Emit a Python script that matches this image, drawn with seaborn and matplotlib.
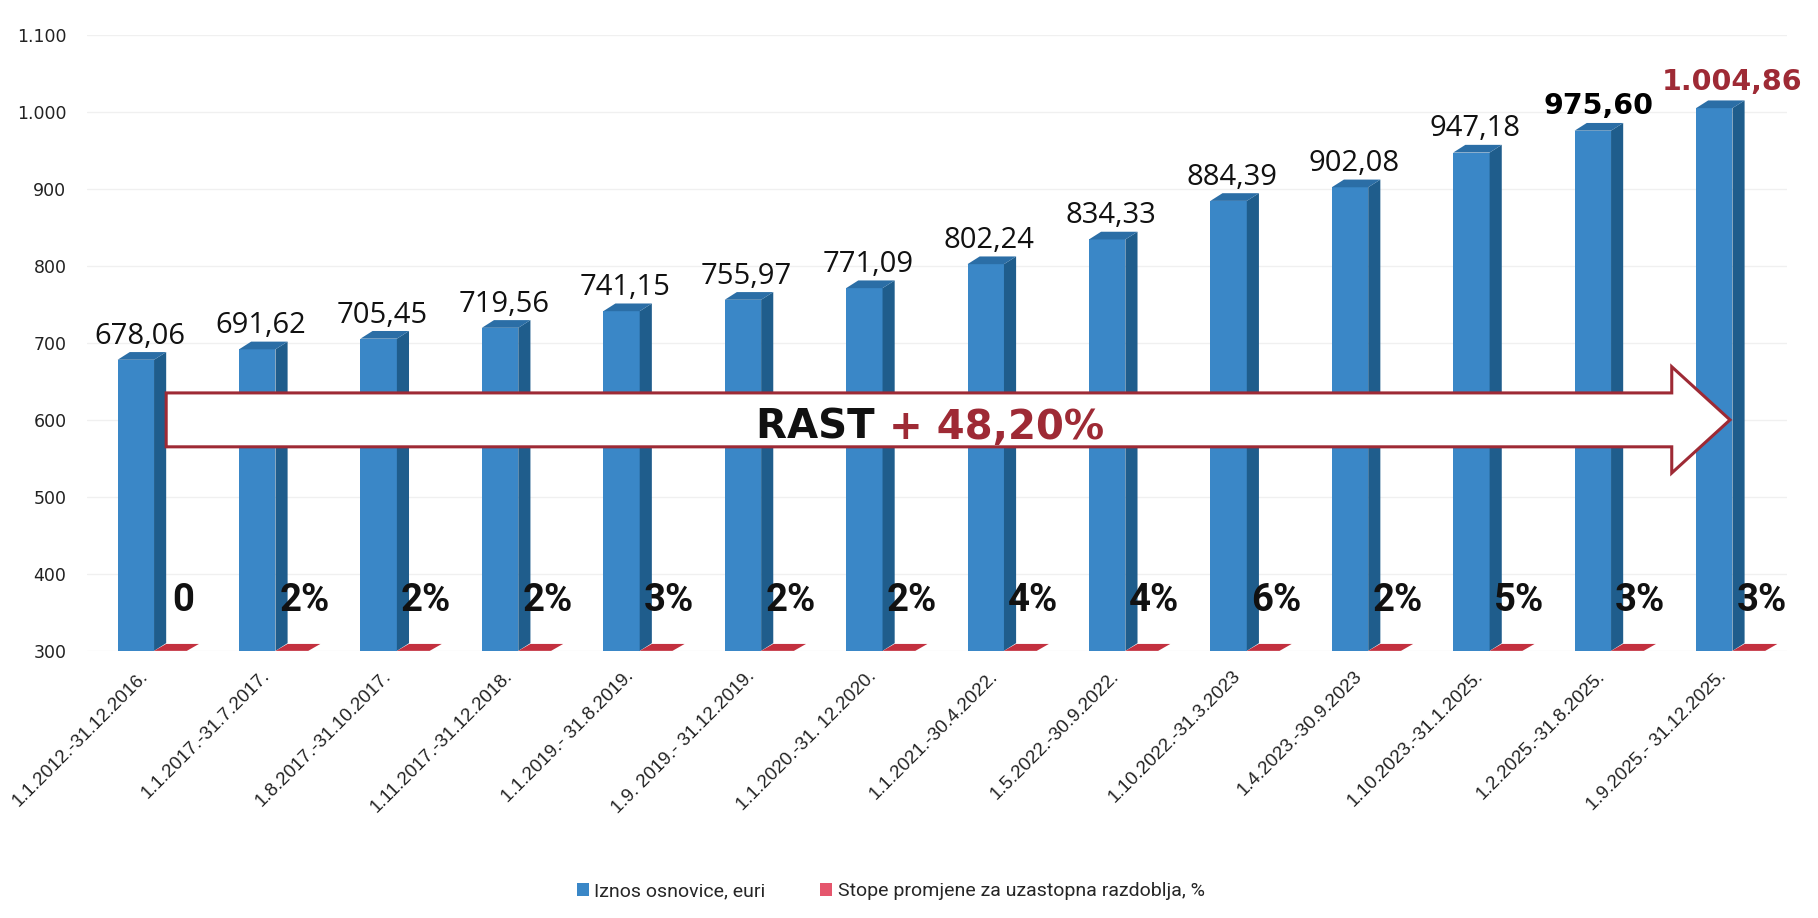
import numpy as np
import pandas as pd
import matplotlib
matplotlib.use('Agg')
import matplotlib.pyplot as plt
import seaborn as sns
from matplotlib.patches import Polygon, FancyArrow, Patch

# chart data
periods = ['1.1.2012.-31.12.2016.', '1.1.2017.-31.7.2017.', '1.8.2017.-31.10.2017.',
           '1.11.2017.-31.12.2018.', '1.1.2019.- 31.8.2019.', '1.9. 2019.- 31.12.2019.',
           '1.1.2020.-31. 12.2020.', '1.1.2021.-30.4.2022.', '1.5.2022.-30.9.2022.',
           '1.10.2022.-31.3.2023', '1.4.2023.-30.9.2023', '1.10.2023.-31.1.2025.',
           '1.2.2025.-31.8.2025.', '1.9.2025.- 31.12.2025.']
base_amount = [678.06, 691.62, 705.45, 719.56, 741.15, 755.97, 771.09, 802.24,
               834.33, 884.39, 902.08, 947.18, 975.60, 1004.86]
change_rate = [0, 2, 2, 2, 3, 2, 2, 4, 4, 6, 2, 5, 3, 3]
rate_labels = ['0', '2%', '2%', '2%', '3%', '2%', '2%', '4%', '4%', '6%', '2%', '5%', '3%', '3%']
amount_labels = ['678,06', '691,62', '705,45', '719,56', '741,15', '755,97', '771,09',
                 '802,24', '834,33', '884,39', '902,08', '947,18', '975,60', '1.004,86']
series_names = ['Iznos osnovice, euri', 'Stope promjene za uzastopna razdoblja, %']
growth_text = ['RAST ', '+ 48,20%']
y_ticks = [300, 400, 500, 600, 700, 800, 900, 1000, 1100]
y_tick_labels = ['300', '400', '500', '600', '700', '800', '900', '1.000', '1.100']

df = pd.DataFrame({
    'period': periods * 2,
    'series': [series_names[0]] * len(periods) + [series_names[1]] * len(periods),
    'value': base_amount + change_rate,
})

blue = '#3a87c7'
blue_side = '#1f5d8c'
blue_top = '#2b6ea6'
red = '#c3303f'
red_legend = '#e5566d'
dark_red = '#9e2a35'
arial = ['Liberation Sans', 'DejaVu Sans']

sns.set_style('white')
plt.rcParams['font.family'] = ['DejaVu Sans']

fig = plt.figure(figsize=(18.18, 9.18), dpi=100)
ax = fig.add_axes([0.048, 0.291, 0.935, 0.671])

sns.barplot(data=df, x='period', y='value', hue='series', palette=[blue, red],
            width=0.6, ax=ax, legend=False, saturation=1, edgecolor='none')

ax.set_ylim(300, 1100)
ax.set_xlim(-0.55, len(periods) - 0.55)

depth_x = 0.1
depth_y = 10

# 3D side and top for blue bars, flat floor for red bars
blue_bars = ax.patches[:len(periods)]
for i, bar in enumerate(blue_bars):
    x0 = bar.get_x()
    x1 = x0 + bar.get_width()
    top = bar.get_height()
    ax.add_patch(Polygon([(x1, 300), (x1 + depth_x, 300 + depth_y),
                          (x1 + depth_x, top + depth_y), (x1, top)],
                         closed=True, facecolor=blue_side, edgecolor='none', zorder=3))
    ax.add_patch(Polygon([(x0, top), (x1, top), (x1 + depth_x, top + depth_y),
                          (x0 + depth_x, top + depth_y)],
                         closed=True, facecolor=blue_top, edgecolor='none', zorder=3))
    # floor piece of the change-rate series
    ax.add_patch(Polygon([(x1, 300), (x1 + 0.27, 300), (x1 + 0.37, 300 + 9),
                          (x1 + depth_x, 300 + 9)],
                         closed=True, facecolor=red, edgecolor='none', zorder=3))
    # value label
    if i == len(periods) - 1:
        ax.text(x0 + 0.3, top + depth_y + 14, amount_labels[i], ha='center', va='baseline',
                fontsize=20.5, fontweight='bold', color=dark_red, zorder=6)
    elif i == len(periods) - 2:
        ax.text(x0 + 0.2, top + depth_y + 12, amount_labels[i], ha='center', va='baseline',
                fontsize=20.5, fontweight='bold', color='black', zorder=6)
    else:
        ax.text(x0 + 0.18, top + depth_y + 11, amount_labels[i], ha='center', va='baseline',
                fontsize=21, family=['Open Sans', 'DejaVu Sans'], color='#111111', zorder=6)
    ax.text(x1 + 0.24, 366, rate_labels[i], ha='center', va='center',
            fontsize=27.5, fontweight='bold', family=['Roboto', 'DejaVu Sans'],
            color='#111111', zorder=6)

# growth arrow
first_right = blue_bars[0].get_x() + blue_bars[0].get_width() + depth_x
last_right = blue_bars[-1].get_x() + blue_bars[-1].get_width() - 0.02
ax.add_patch(FancyArrow(first_right, 600, last_right - first_right, 0, width=70,
                        head_width=138, head_length=0.48, length_includes_head=True,
                        facecolor='white', edgecolor=dark_red, linewidth=2.2, zorder=5))
ax.text(6.05, 590, growth_text[0], ha='right', va='center', fontsize=29,
        fontweight='bold', color='#111111', zorder=6)
ax.text(6.05, 590, growth_text[1], ha='left', va='center', fontsize=29,
        fontweight='bold', color=dark_red, zorder=6)

# axes styling
ax.set_yticks(y_ticks)
ax.set_yticklabels(y_tick_labels, fontsize=12.5, color='#222222')
ax.tick_params(axis='y', length=0, pad=15)
ax.tick_params(axis='x', length=0, pad=12)
ax.yaxis.grid(True, color='#f0f0f0', linewidth=1)
ax.set_axisbelow(True)
ax.set_xlabel('')
ax.set_ylabel('')
for s in ax.spines.values():
    s.set_visible(False)

ax.set_xticks(np.arange(len(periods)) - 0.12)
ax.set_xticklabels(periods, rotation=45, ha='right', va='top', rotation_mode='anchor',
                   fontsize=13.5, family=arial, color='#222222')

handles = [Patch(facecolor=blue, edgecolor='none'), Patch(facecolor=red_legend, edgecolor='none')]
fig.legend(handles, series_names, loc='lower center', bbox_to_anchor=(0.49, 0.0), ncol=2,
           frameon=False, prop={'family': ['Roboto', 'DejaVu Sans'], 'size': 14},
           handlelength=0.6, handleheight=0.6, handletextpad=0.3, columnspacing=2.8)

plt.savefig('out.png', dpi=100)
